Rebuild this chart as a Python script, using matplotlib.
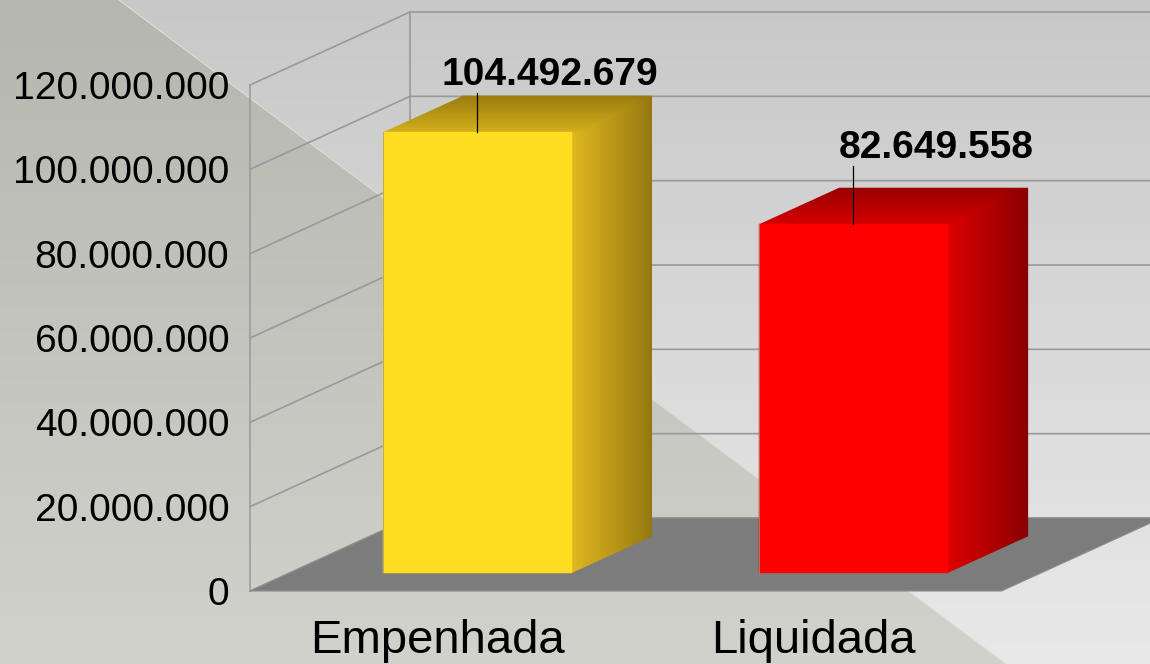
import numpy as np
import matplotlib
matplotlib.use("Agg")
import matplotlib.pyplot as plt
from matplotlib.colors import LinearSegmentedColormap, to_rgb
from matplotlib.patches import Polygon
from matplotlib.ticker import FuncFormatter

categories = ["Empenhada", "Liquidada"]
values = [104492679, 82649558]
value_labels = ["104.492.679", "82.649.558"]
tick_values = [0, 20000000, 40000000, 60000000, 80000000, 100000000, 120000000]
front_colors = ["#ffdd20", "#ff0000"]
top_colors = [["#d4ae1c", "#9a7b10"], ["#d40000", "#980000"]]
side_colors = [["#e0b820", "#967810"], ["#dc0000", "#8a0000"]]

plt.rcParams["font.family"] = ["Liberation Sans", "DejaVu Sans"]
W, H = 1150, 664
fig = plt.figure(figsize=(W / 100, H / 100), dpi=100)

# Background panels, in pixel coordinates of the picture
bg = fig.add_axes([0, 0, 1, 1])
bg.set_axis_off()


def gradient(target, corners, c0, c1, zorder=1):
    corners = np.array(corners, dtype=float)
    x0, x1 = corners[:, 0].min(), corners[:, 0].max()
    y0, y1 = corners[:, 1].min(), corners[:, 1].max()
    ramp = np.linspace(0, 1, 256)[:, None]
    cmap = LinearSegmentedColormap.from_list("g", [c0, c1])
    im = target.imshow(ramp, cmap=cmap, extent=(x0, x1, y0, y1), origin="lower",
                       aspect="auto", interpolation="bilinear", zorder=zorder)
    im.set_clip_box(fig.bbox)
    im.set_clip_path(Polygon(corners, closed=True, transform=target.transData,
                             facecolor="none", edgecolor="none"))
    return im


gradient(bg, [(0, 0), (W, 0), (W, H), (0, H)], "#c8c8c8", "#e9e9e9", zorder=1)
gradient(bg, [(0, 0), (119, 0), (1006, H), (0, H)], "#b5b6ae", "#d1d2cc", zorder=2)
bg.plot([119, 1006], [0, H], color="#dedfd2", lw=0.8, zorder=3)
bg.set_xlim(0, W)
bg.set_ylim(H, 0)

# Chart axes: real category and value scales
AX_W = 751.5
ax = fig.add_axes([250 / W, (H - 591) / H, AX_W / W, 506 / H])
ax.patch.set_visible(False)
for s in ax.spines.values():
    s.set_visible(False)

XMAX = len(categories)
YMAX = 120000000
PX_X = XMAX / AX_W    # category units per pixel
PX_Y = YMAX / 506     # value units per pixel
DX = 160 * PX_X
DY = 73 * PX_Y


def proj(c, v, d):
    return (c + d * DX, v + d * DY)


grid = "#999999"
for t in tick_values:
    ax.plot(*zip(proj(0, t, 0), proj(0, t, 1), proj(XMAX + 0.1, t, 1)),
            color=grid, lw=1.2, clip_on=False, zorder=2)
ax.plot(*zip(proj(0, 0, 0), proj(0, YMAX, 0)), color=grid, lw=1.1, clip_on=False, zorder=2)
ax.plot(*zip(proj(0, 0, 1), proj(0, YMAX, 1)), color=grid, lw=1.2, clip_on=False, zorder=2)

ax.add_patch(Polygon([proj(0, 0, 0), proj(XMAX, 0, 0), proj(XMAX, 0, 1), proj(0, 0, 1)],
                     closed=True, facecolor="#7c7c7c", edgecolor="#8e8e8e", lw=0.8,
                     clip_on=False, zorder=3))


def shaded_block(left, right, v, top, side):
    """Top and side faces as one picture, so that they blend at the shared edge."""
    depth = D1 - D0
    xs = np.linspace(left + D0 * DX, right + D1 * DX, 500)
    ys = np.linspace(0, v + D1 * DY, 600)
    gx, gy = np.meshgrid(xs, ys)
    fx = np.clip((gx - (right + D0 * DX)) / (depth * DX), 0, 1)[..., None]
    fy = np.clip((gy - (v + D0 * DY)) / (depth * DY), 0, 1)[..., None]
    s0, s1 = np.array(to_rgb(side[0])), np.array(to_rgb(side[1]))
    t0, t1 = np.array(to_rgb(top[0])), np.array(to_rgb(top[1]))
    side_rgb = s0 + (s1 - s0) * fx
    top_rgb = t0 + (t1 - t0) * fy
    above = gy > v + D0 * DY
    darker = top_rgb.sum(axis=2) < side_rgb.sum(axis=2)
    rgb = np.where((above & darker)[..., None], top_rgb, side_rgb)
    im = ax.imshow(rgb, extent=(xs[0], xs[-1], ys[0], ys[-1]), origin="lower",
                   aspect="auto", interpolation="bilinear", zorder=4)
    outline = [proj(left, v, D0), proj(left, v, D1), proj(right, v, D1),
               proj(right, 0, D1), proj(right, 0, D0), proj(left, 0, D0)]
    im.set_clip_box(fig.bbox)
    im.set_clip_path(Polygon(outline, closed=True, transform=ax.transData,
                             facecolor="none", edgecolor="none"))


BAR_W = 189 * PX_X
D0, D1 = 0.25, 0.75
label_dx = [72.5, 83]      # pixels from bar centre to label centre
leader_len = [38, 57]      # pixels
for i, (v, front, top, side, lab) in enumerate(
        zip(values, front_colors, top_colors, side_colors, value_labels)):
    left = i + 0.5 - BAR_W / 2
    right = i + 0.5 + BAR_W / 2
    shaded_block(left, right, v, top, side)
    ax.add_patch(Polygon([proj(left, 0, D0), proj(right, 0, D0),
                          proj(right, v, D0), proj(left, v, D0)],
                         closed=True, facecolor=front, edgecolor=front, lw=0.3,
                         clip_on=False, zorder=5))
    ax.plot(*zip(proj(left, 0, D0), proj(left, v, D0)), color="#9a9a80", lw=0.5,
            clip_on=False, zorder=5)
    xa, ya = proj(i + 0.5, v, D0)
    xl = xa - 0.6 * PX_X
    ax.plot([xl, xl], [ya, ya + (leader_len[i] + 1) * PX_Y], color="black", lw=0.9,
            clip_on=False, zorder=6)
    ax.annotate(lab, xy=(xa, ya), xytext=(label_dx[i] * 0.72, (leader_len[i] + 9) * 0.72),
                textcoords="offset points", ha="center", va="baseline",
                fontsize=28.1, fontweight="bold", color="#000000",
                annotation_clip=False, zorder=7)

ax.set_xlim(0, XMAX)
ax.set_ylim(0, YMAX)
ax.set_xticks([i + 0.5 for i in range(len(categories))], categories, fontsize=34)
ax.set_yticks(tick_values)
ax.yaxis.set_major_formatter(FuncFormatter(lambda y, _: f"{int(y):,}".replace(",", ".")))
ax.tick_params(axis="y", length=0, pad=15, labelsize=28.1, labelcolor="#000000")
ax.tick_params(axis="x", length=0, pad=20.5, labelcolor="#000000")

fig.savefig("out.png", dpi=100)
